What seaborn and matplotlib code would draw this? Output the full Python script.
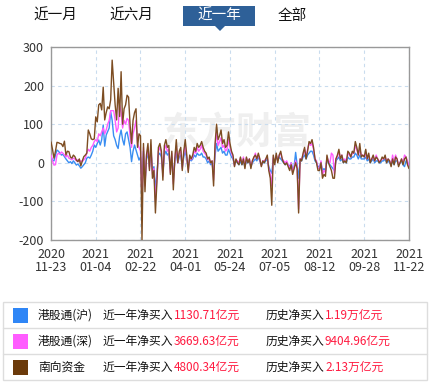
import numpy as np
import pandas as pd
import matplotlib
matplotlib.use("Agg")
import matplotlib.pyplot as plt
from matplotlib.patches import Rectangle, Polygon
import seaborn as sns

sns.set_style("white")
plt.rcParams['font.family'] = ['Noto Sans CJK SC', 'DejaVu Sans']

tabs = ["近一月", "近六月", "近一年", "全部"]
tick_labels = ["2020\n11-23", "2021\n01-04", "2021\n02-22", "2021\n04-01", "2021\n05-24",
               "2021\n07-05", "2021\n08-12", "2021\n09-28", "2021\n11-22"]
series_names = ["港股通(沪)", "港股通(深)", "南向资金"]
year_net = ["1130.71亿元", "3669.63亿元", "4800.34亿元"]
hist_net = ["1.19万亿元", "9404.96亿元", "2.13万亿元"]

south = [54, 35, 12, 30, 53, 52, 50, 49, 42, 56,
         20, 30, 29, 15, 12, 20, 16, 7, 3, 10,
         -8, 5, 16, 20, 25, 85, 75, 62, 60, 62,
         119, 106, 150, 154, 137, 196, 111, 130, 145, 140,
         163, 266, 206, 150, 111, 193, 120, 236, 100, 140,
         150, 175, 170, 100, 50, 110, 130, 140, 40, 75,
         70, -200, 50, -75, 20, 50, -20, 60, -40, -20,
         -130, -50, 40, 50, 30, -45, 45, 60, 40, 45,
         -30, 30, -70, 10, 60, 0, 30, 40, -20, 30,
         60, 20, -25, 20, 10, 20, 40, 30, 50, 40,
         45, 55, 40, 30, 25, 10, 15, 0, 5, -60,
         50, 100, 60, 70, 85, 50, 60, 40, 45, 80,
         50, 30, 20, -10, 10, 0, -5, 15, -5, 10,
         -15, 15, 0, 10, -15, 5, 15, 20, 10, 25,
         10, -10, 5, 0, 10, 20, -20, -40, -110, 20,
         -5, 25, 0, 20, 30, 10, 0, -5, 0, -10,
         -20, -5, -30, -15, 0, -15, -130, 10, 5, 25,
         40, 10, 30, 55, 50, 60, 40, 10, 0, -20,
         -20, 0, -40, -30, -35, 20, 0, -10, -20, -40,
         -40, 10, 20, 35, 10, 20, 0, 5, 0, 30,
         25, 15, 30, 25, 55, 40, 20, 50, 15, 20,
         15, 35, 10, 25, 0, 10, 20, 5, 15, 10,
         0, 5, 15, 10, 20, 0, 10, 5, -10, 10,
         -5, 15, 10, -10, 0, 10, -5, 10, 15, -5,
         -15]

sh = [16, 7, 5, 20, 33, 30, 25, 20, 22, 16,
      10, 5, 0, 3, -2, 5, 0, -6, -3, -8,
      -14, -10, -5, 0, 12, 15, 12, 20, 30, 46,
      40, 50, 59, 46, 60, 98, 43, 72, 81, 90,
      132, 110, 70, 60, 45, 37, 68, 85, 60, 46,
      75, 80, 60, 40, 3, 30, 46, 33, 20, 7,
      15, -40, 30, -50, 10, 25, -10, 30, -20, -10,
      -70, -30, 20, 25, 15, -25, 20, 30, 20, 25,
      -15, 15, -40, 5, 25, 0, 15, 20, -10, 15,
      30, 10, -10, 10, 5, 10, 20, 15, 25, 20,
      20, 25, 15, 15, 10, 0, 5, -5, 0, -30,
      20, 50, 30, 35, 40, 25, 30, 20, 20, 35,
      25, 15, 10, -5, 5, 0, -5, 5, -5, 5,
      -10, 5, 0, 5, -10, 0, 5, 10, 5, 15,
      5, -5, 0, 0, 5, 10, -10, -20, -27, 10,
      0, 20, 5, 15, 10, 5, 0, -5, 0, -5,
      -10, 0, -15, -10, 27, -5, -40, 5, 5, 15,
      20, 10, 20, 25, 30, 30, 20, 5, 0, -10,
      -10, 0, -20, -15, -20, 10, 0, -5, -10, -15,
      -20, 5, 10, 15, 5, 10, 0, 5, 0, 15,
      10, 10, 15, 15, 25, 20, 10, 20, 10, 10,
      10, 15, 5, 10, 0, 5, 10, 0, 5, 5,
      0, 0, 5, 5, 10, 0, 5, 0, -5, 5,
      -5, 5, 5, -5, 0, 5, -5, -10, 5, 0,
      -5]

sz = [20, 5, -6, -5, 20, 25, 22, 28, 25, 20,
      15, 20, 12, 10, 8, 12, 10, 5, 8, 2,
      5, 3, 8, 12, 25, 35, 30, 40, 45, 55,
      60, 55, 75, 70, 80, 90, 75, 85, 100, 110,
      135, 135, 135, 110, 80, 90, 150, 130, 90, 110,
      100, 115, 110, 70, 40, 75, 90, 110, 50, 40,
      30, -100, 40, -60, 15, 40, -15, 45, -30, -15,
      -100, -40, 30, 40, 25, -35, 35, 45, 30, 35,
      -25, 25, -55, 8, 45, 0, 25, 30, -15, 25,
      45, 15, -20, 15, 8, 15, 30, 25, 40, 30,
      35, 45, 30, 25, 20, 8, 10, 0, 5, -45,
      40, 80, 45, 55, 65, 40, 45, 30, 35, 60,
      40, 25, 15, -8, 8, 5, 0, 12, 0, 15,
      -10, 12, 5, 10, -10, 5, 12, 25, 10, 20,
      8, -8, 5, 5, 10, 15, -15, -30, -60, 15,
      0, 20, 5, 20, 25, 10, 5, 0, 5, -5,
      -15, 0, -25, -10, 5, -10, -120, 10, 10, 20,
      35, 15, 35, 50, 45, 50, 35, 10, 5, -15,
      -15, 5, -30, -20, -25, 15, 5, 0, 25, 20,
      -30, 10, 15, 30, 10, 20, 5, 10, 5, 25,
      20, 15, 25, 25, 45, 35, 20, 35, 20, 20,
      15, 25, 10, 20, 5, 10, 15, 5, 20, 10,
      5, 5, 10, 10, 15, 5, 10, 5, -5, 20,
      0, 20, 10, -5, 0, 10, 0, 20, 15, 5,
      -10]

line_colors = ["#3a8ef2", "#ff5cff", "#7d4d22"]
swatch_colors = ["#2f86f6", "#ff5cff", "#6b3a0a"]

W, H = 431, 383
fig = plt.figure(figsize=(W / 100, H / 100), dpi=100)

# overlay axes in pixel coordinates
ov = fig.add_axes([0, 0, 1, 1], zorder=-1)
ov.set_xlim(0, W)
ov.set_ylim(H, 0)
ov.axis("off")

# tabs
tab_x = [55, 131, 219, 292]
for i, t in enumerate(tabs):
    if i == 2:
        ov.add_patch(Rectangle((183, 6), 72, 20, facecolor="#2e6098", edgecolor="none"))
        ov.add_patch(Polygon([(215, 26), (225, 26), (220, 31)], closed=True,
                             facecolor="#2e6098", edgecolor="none"))
        ov.text(tab_x[i], 16, t, color="white", fontsize=10.5, ha="center", va="center")
    else:
        ov.text(tab_x[i], 16, t, color="#111111", fontsize=10.5, ha="center", va="center")

# legend table
ov.add_patch(Rectangle((3, 302), 424, 78, facecolor="none", edgecolor="#dddddd", lw=1))
for yy in (328, 354):
    ov.plot([3, 427], [yy, yy], color="#dddddd", lw=1)
row_y = [315.5, 341, 367]
for i in range(3):
    y = row_y[i]
    ov.add_patch(Rectangle((13, y - 7.5), 15, 15, facecolor=swatch_colors[i], edgecolor="none"))
    ov.text(38, y, series_names[i], fontsize=8.5, color="#111111", va="center", ha="left")
    ov.text(103, y, "近一年净买入", fontsize=8.5, color="#111111", va="center", ha="left")
    ov.text(174, y, year_net[i], fontsize=8.5, color="#ff1a40", va="center", ha="left")
    ov.text(265.5, y, "历史净买入", fontsize=8.5, color="#111111", va="center", ha="left")
    ov.text(325, y, hist_net[i], fontsize=8.5, color="#ff1a40", va="center", ha="left")

# main chart
left, right, top, bottom = 51, 409, 47, 240
ax = fig.add_axes([left / W, 1 - bottom / H, (right - left) / W, (bottom - top) / H])
n = len(south)
df = pd.DataFrame({
    "idx": np.tile(np.arange(n), 3),
    "value": sh + sz + south,
    "series": np.repeat(series_names, n),
})
ax.text(0.52, 0.555, "东方财富", transform=ax.transAxes, fontsize=27, fontweight="bold",
        color="#efefef", ha="center", va="center", zorder=0, clip_on=True)
sns.lineplot(data=df, x="idx", y="value", hue="series", palette=line_colors,
             hue_order=series_names, linewidth=1.0, ax=ax, legend=False, zorder=3)
ax.set_xlim(0, n - 1)
ax.set_ylim(-200, 300)
xt = np.arange(0, n, 30)
ax.set_xticks(xt)
ax.set_xticklabels(tick_labels, fontsize=9, color="#333333", linespacing=1.0)
ax.set_yticks([-200, -100, 0, 100, 200, 300])
ax.set_yticklabels(["-200", "-100", "0", "100", "200", "300"], fontsize=9, color="#333333")
ax.tick_params(axis="x", length=0, pad=6)
ax.tick_params(axis="y", length=0, pad=5)
ax.set_xlabel("")
ax.set_ylabel("")
ax.grid(True, linestyle=(0, (3, 3)), color="#c9dcee", linewidth=0.8)
for s in ax.spines.values():
    s.set_color("#999999")
    s.set_linewidth(1.0)

fig.savefig("out.png", dpi=100)
